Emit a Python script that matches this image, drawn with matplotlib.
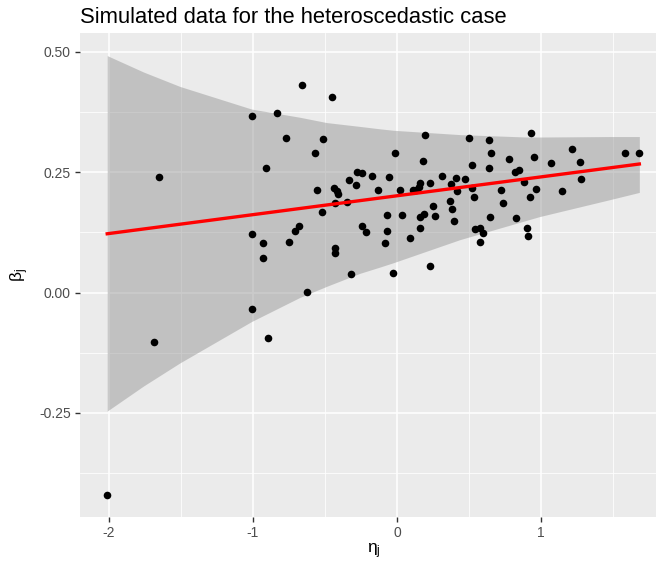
import numpy as np
import matplotlib
matplotlib.use("Agg")
import matplotlib.pyplot as plt

plt.rcParams['font.family'] = ['Liberation Sans', 'DejaVu Sans']
plt.rcParams['mathtext.default'] = 'regular'

# Simulated study: one point per unit j
eta = [-2.012, -1.685, -1.651, -1.009, -1.007, -1.005, -0.928, -0.928, -0.912, -0.896,
       -0.833, -0.773, -0.750, -0.708, -0.683, -0.658, -0.627, -0.572, -0.556, -0.521,
       -0.514, -0.449, -0.438, -0.431, -0.428, -0.428, -0.417, -0.410, -0.345, -0.336,
       -0.317, -0.287, -0.278, -0.245, -0.243, -0.213, -0.171, -0.130, -0.085, -0.072,
       -0.072, -0.058, -0.025, -0.014, 0.021, 0.035, 0.093, 0.113, 0.132, 0.151,
       0.157, 0.160, 0.160, 0.178, 0.188, 0.197, 0.227, 0.229, 0.252, 0.266,
       0.315, 0.366, 0.377, 0.384, 0.396, 0.408, 0.415, 0.474, 0.500, 0.523,
       0.523, 0.532, 0.539, 0.576, 0.576, 0.600, 0.637, 0.637, 0.648, 0.653,
       0.724, 0.736, 0.780, 0.822, 0.824, 0.845, 0.880, 0.900, 0.912, 0.921,
       0.933, 0.951, 0.965, 1.072, 1.146, 1.215, 1.269, 1.280, 1.586, 1.683]
beta = [-0.421, -0.102, 0.239, 0.367, -0.035, 0.121, 0.102, 0.072, 0.259, -0.095,
        0.372, 0.321, 0.106, 0.127, 0.138, 0.430, 0.001, 0.290, 0.213, 0.168,
        0.319, 0.406, 0.218, 0.092, 0.082, 0.187, 0.211, 0.204, 0.188, 0.234,
        0.039, 0.223, 0.250, 0.138, 0.248, 0.126, 0.243, 0.213, 0.102, 0.162,
        0.127, 0.241, 0.041, 0.290, 0.213, 0.161, 0.113, 0.212, 0.214, 0.219,
        0.156, 0.228, 0.135, 0.274, 0.163, 0.328, 0.055, 0.227, 0.180, 0.160,
        0.242, 0.190, 0.225, 0.174, 0.149, 0.237, 0.210, 0.235, 0.322, 0.264,
        0.218, 0.198, 0.131, 0.135, 0.105, 0.124, 0.316, 0.259, 0.156, 0.290,
        0.214, 0.185, 0.277, 0.251, 0.154, 0.255, 0.230, 0.135, 0.118, 0.198,
        0.331, 0.281, 0.216, 0.270, 0.210, 0.298, 0.272, 0.236, 0.290, 0.290]

# Fitted line
fit_intercept = 0.201
fit_slope = 0.0392

# Heteroscedastic confidence band
band_eta = [-2.012, -1.760, -1.507, -1.009, -0.674, -0.488, -0.257, -0.118, -0.025,
            0.438, 0.900, 0.993, 1.479, 1.683]
band_upper = [0.492, 0.458, 0.428, 0.381, 0.364, 0.353, 0.345, 0.340, 0.337,
              0.328, 0.323, 0.323, 0.324, 0.324]
band_lower = [-0.246, -0.194, -0.146, -0.060, -0.010, 0.013, 0.040, 0.053, 0.062,
              0.110, 0.150, 0.158, 0.193, 0.208]

x_ticks = [-2, -1, 0, 1]
y_ticks = [-0.25, 0.00, 0.25, 0.50]
y_ticklabels = ["-0.25", "0.00", "0.25", "0.50"]

W, H = 656, 562
fig = plt.figure(figsize=(W / 100, H / 100), dpi=100)
# the panel runs a little past the right edge of the figure
ax = fig.add_axes([80 / W, (H - 517) / H, 588 / W, 484 / H])
ax.set_facecolor('#EBEBEB')
for s in ax.spines.values():
    s.set_visible(False)

ax.set_xlim(-2.201, 1.882)
ax.set_ylim(-0.466, 0.539)

ax.set_xticks(x_ticks)
ax.set_xticklabels([str(t) for t in x_ticks])
ax.set_yticks(y_ticks)
ax.set_yticklabels(y_ticklabels)
ax.set_xticks([-1.5, -0.5, 0.5, 1.5], minor=True)
ax.set_yticks([-0.375, -0.125, 0.125, 0.375], minor=True)
ax.grid(which='major', color='white', linewidth=1.1)
ax.grid(which='minor', color='white', linewidth=0.55)
ax.set_axisbelow(True)
ax.tick_params(which='major', length=3.5, width=1.0, color='#333333',
               labelcolor='#4D4D4D', labelsize=10, pad=3)
ax.tick_params(which='minor', length=0)

ax.fill_between(band_eta, band_lower, band_upper, color='#999999', alpha=0.5,
                linewidth=0, zorder=2)
ax.scatter(eta, beta, s=30, color='black', linewidths=0, zorder=3)
xl = np.array([min(eta), max(eta)])
ax.plot(xl, fit_intercept + fit_slope * xl, color='red', linewidth=2.4, zorder=4)

ax.set_xlabel(r'$\eta_j$', fontsize=12.5, labelpad=1)
ax.set_ylabel(r'$\beta_j$', fontsize=12.5, labelpad=6)
ax.set_title('Simulated data for the heteroscedastic case', loc='left',
             fontsize=15.8, pad=7, color='black')

fig.savefig('out.png', dpi=100)
